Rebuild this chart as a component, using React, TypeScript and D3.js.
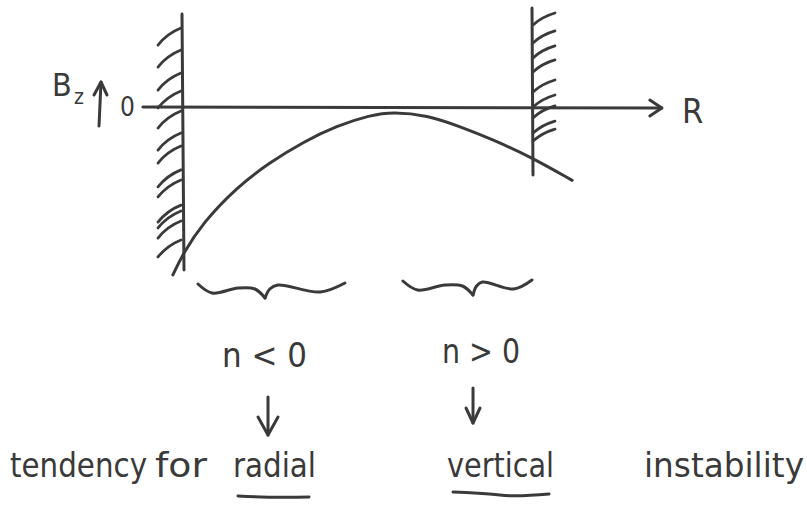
import * as d3 from 'd3';

// curve Bz(R), R = 0 at the left wall, 1 at the right wall
const curveR = [-0.029, 0, 0.057, 0.155, 0.249, 0.344, 0.441, 0.536, 0.602, 0.699, 0.794, 0.888, 1.0, 1.115];
const curveBz = [-1.03, -0.9, -0.71, -0.49, -0.34, -0.215, -0.115, -0.05, -0.03, -0.05, -0.12, -0.2, -0.31, -0.45];

// hatch marks along the walls (Bz of the lower end of each stroke)
const leftHatchBz = [0.38, 0.245, 0.104, -0.006, -0.129, -0.264, -0.344, -0.49, -0.552, -0.706, -0.742, -0.804, -0.92];
const rightHatchBz = [0.503, 0.393, 0.301, 0.215, 0.092, 0, -0.067, -0.16, -0.209];

const wallR = [0, 1];
const axisR = [-0.115, 1.372];

const braceFrom = [0.043, 0.63];
const braceTo = [0.464, 1.0];
const braceTip = [0.235, 0.831];
const braceLabels = ['n < 0', 'n > 0'];

const bottomWords = ['tendency', 'for', 'radial', 'vertical', 'instability'];

const ink = '#3a3a3a';
const font = "'DejaVu Sans Condensed', 'Liberation Sans Narrow', 'DejaVu Sans', sans-serif";

const App = () => {
  const width = 807;
  const height = 511;

  const x = d3.scaleLinear().domain([0, 1]).range([183, 532]);
  const y = d3.scaleLinear().domain([0, -1]).range([107, 270]);

  const line = d3.line<[number, number]>()
    .x(d => x(d[0]))
    .y(d => y(d[1]))
    .curve(d3.curveBasis);

  const curvePts: [number, number][] = curveR.map((r, i) => [r, curveBz[i]]);

  // slightly bowed stroke, lower-left to upper-right
  const hatchPath = (x0: number, y0: number, dx: number, dy: number) => {
    const p = d3.path();
    p.moveTo(x0, y0);
    p.quadraticCurveTo(x0 + dx * 0.4, y0 - dy * 0.68, x0 + dx, y0 - dy);
    return p.toString();
  };

  const braceLine = d3.line<[number, number]>().curve(d3.curveCatmullRom);
  const bracePaths = (i: number, yb: number) => {
    const x0 = x(braceFrom[i]);
    const x1 = x(braceTo[i]);
    const xt = x(braceTip[i]);
    const l = xt - x0;
    const r = x1 - xt;
    const left: [number, number][] = [
      [x0, yb - 3], [x0 + 0.21 * l, yb + 6], [x0 + 0.6 * l, yb + 1], [x0 + 0.85 * l, yb + 2], [xt, yb + 11],
    ];
    const right: [number, number][] = [
      [xt, yb + 11], [xt + 0.06 * r, yb + 2], [xt + 0.16 * r, yb - 2], [xt + 0.69 * r, yb + 5], [x1, yb - 4],
    ];
    return [braceLine(left), braceLine(right)];
  };
  const braceY = [287, 284];

  const arrowTop = [397, 388];
  const arrowBottom = [435, 423];
  const labelSpan = [[222, 307, 367], [442, 520, 363]];

  // bottom words: left, right
  const wordSpan = [[10, 147], [155, 207], [233, 316], [447, 554], [644, 804]];

  return (
    <svg
      width={width}
      height={height}
      style={{ position: 'absolute', left: 0, top: 0, background: '#fff' }}
    >
      <g stroke={ink} strokeWidth={3} fill="none" strokeLinecap="round" strokeLinejoin="round">
        {/* walls */}
        <line x1={x(wallR[0]) - 1} y1={14} x2={x(wallR[0]) + 1} y2={270} />
        <line x1={x(wallR[1])} y1={8} x2={x(wallR[1]) + 1} y2={175} />
        {leftHatchBz.map((b, i) => (
          <path key={'lh' + i} d={hatchPath(x(0) - 25, y(b), 23, 17)} strokeWidth={2.8} />
        ))}
        {rightHatchBz.map((b, i) => (
          <path key={'rh' + i} d={hatchPath(x(1) + 1, y(b), 22, 12)} strokeWidth={2.8} />
        ))}

        {/* R axis */}
        <line x1={x(axisR[0])} y1={y(0)} x2={x(axisR[1])} y2={y(0) + 1} />
        <path d={`M${x(axisR[1]) - 12},${y(0) - 7} L${x(axisR[1])},${y(0) + 1} L${x(axisR[1]) - 12},${y(0) + 9}`} />

        {/* Bz arrow */}
        <line x1={99} y1={126} x2={101} y2={82} />
        <path d="M94,95 L101,82 L107,95" />

        {/* curve */}
        <path d={line(curvePts) || ''} />

        {/* braces */}
        {braceFrom.map((_, i) => {
          const [a, b] = bracePaths(i, braceY[i]);
          return (
            <g key={'br' + i}>
              <path d={a || ''} />
              <path d={b || ''} />
            </g>
          );
        })}

        {/* down arrows */}
        {braceTip.map((t, i) => {
          const ax = x(t) + (i === 0 ? 3 : 0);
          const hw = i === 0 ? 10 : 7;
          const hh = i === 0 ? 18 : 15;
          return (
            <g key={'ar' + i}>
              <line x1={ax} y1={arrowTop[i]} x2={ax} y2={arrowBottom[i]} />
              <path d={`M${ax - hw},${arrowBottom[i] - hh} L${ax},${arrowBottom[i]} L${ax + hw},${arrowBottom[i] - hh}`} />
            </g>
          );
        })}

        {/* underlines */}
        <path d="M238,496 Q270,498 309,497" />
        <path d="M453,492 Q480,493 500,495 Q515,497 549,494" />
      </g>

      <g fill={ink} fontFamily={font}>
        <text x={52} y={96} fontSize={32}>B</text>
        <text x={74} y={104} fontSize={21}>z</text>
        <text x={120} y={116} fontSize={26}>0</text>
        <text x={682} y={123} fontSize={34}>R</text>

        {braceLabels.map((s, i) => (
          <text
            key={'bl' + i}
            x={labelSpan[i][0]}
            y={labelSpan[i][2]}
            fontSize={33}
            textLength={labelSpan[i][1] - labelSpan[i][0]}
            lengthAdjust="spacingAndGlyphs"
          >
            {s}
          </text>
        ))}

        {bottomWords.map((w, i) => (
          <text
            key={'w' + i}
            x={wordSpan[i][0]}
            y={477}
            fontSize={34}
            textLength={wordSpan[i][1] - wordSpan[i][0]}
            lengthAdjust="spacingAndGlyphs"
          >
            {w}
          </text>
        ))}
      </g>
    </svg>
  );
};

export default App;
